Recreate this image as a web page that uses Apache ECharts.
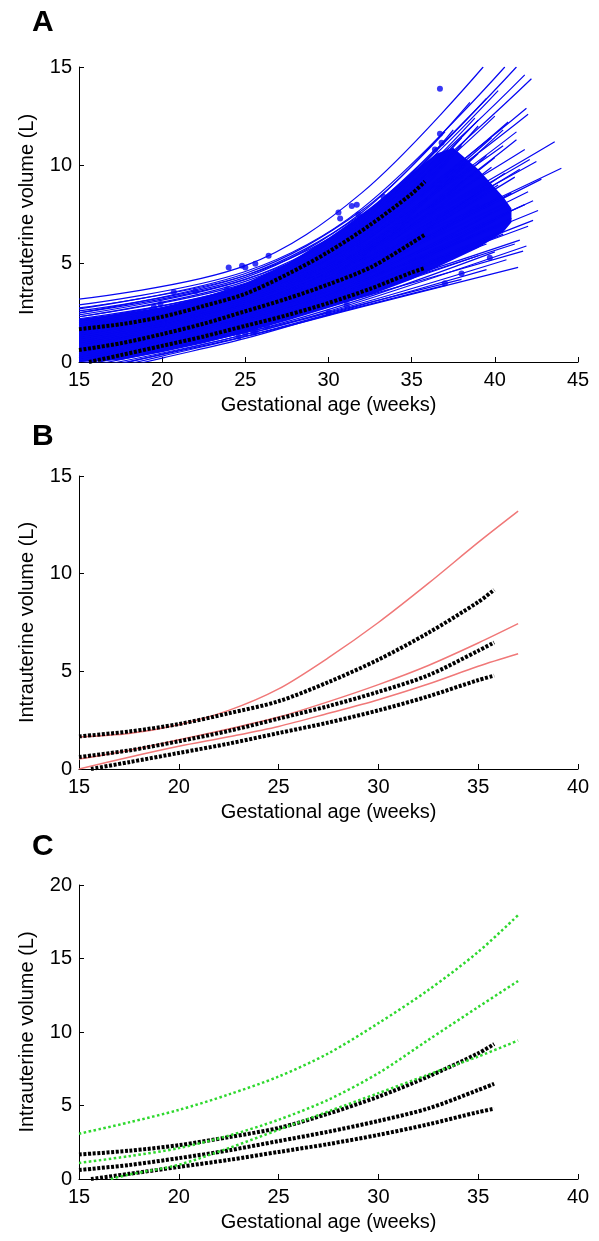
<!DOCTYPE html>
<html>
<head>
<meta charset="utf-8">
<script src="https://cdn.jsdelivr.net/npm/echarts@6/dist/echarts.min.js"></script>
<style>
html,body{margin:0;padding:0;background:#fff;}
#chart{width:599px;height:1241px;}
</style>
</head>
<body>
<div id="chart"></div>
<script>
// ---------- data ----------
const xTitle = 'Gestational age (weeks)';
const yTitle = 'Intrauterine volume (L)';
const panelLabels = ['A', 'B', 'C'];

// centile curves (black dotted), same in all panels
const blackUpper = [[15,1.67],[17.5,1.92],[20,2.3],[22.5,2.85],[25,3.47],[27.5,4.45],[30,5.6],[32.5,6.97],[35,8.55],[35.8,9.18]];
const blackMid   = [[15,0.61],[17.5,0.95],[20,1.42],[22.5,1.95],[25,2.58],[27.5,3.22],[30,3.95],[32.5,4.8],[35,6.05],[35.8,6.48]];
const blackLower = [[15.6,0],[17.5,0.35],[20,0.82],[22.5,1.3],[25,1.84],[27.5,2.38],[30,3.0],[32.5,3.72],[35,4.55],[35.8,4.78]];

// panel B reference curves (red)
const redTop = [[15,1.64],[17.5,1.82],[20,2.27],[22.5,3.0],[25,4.1],[27.5,5.7],[30,7.5],[32.5,9.5],[35,11.6],[37,13.2]];
const redMid = [[15,0.51],[17.5,0.95],[20,1.5],[22.5,2.05],[25,2.66],[27.5,3.45],[30,4.32],[32.5,5.3],[35,6.45],[37,7.44]];
const redLow = [[15,0],[17.5,0.6],[20,1.16],[22.5,1.65],[25,2.18],[27.5,2.85],[30,3.55],[32.5,4.35],[35,5.26],[37,5.9]];

// panel C reference curves (green)
const greenTop = [[15,3.08],[17.5,3.85],[20,4.7],[22.5,5.75],[25,6.97],[27.5,8.55],[30,10.6],[32.5,12.85],[35,15.45],[37,17.95]];
const greenMid = [[15,1.09],[17.5,1.55],[20,2.1],[22.5,2.95],[25,4.03],[27.5,5.4],[30,7.2],[32.5,9.46],[35,11.7],[37,13.47]];
const greenLow = [[16.6,0],[17.5,0.3],[20,0.97],[22.5,2.1],[25,3.35],[27.5,4.6],[30,5.84],[32.5,7.1],[35,8.33],[37,9.42]];

// panel A: individual fitted trajectories (blue)
const blueTraj = [
  [[15,3.2],[25,4.9],[32,8.6],[39.3,15]],
  [[15,2.9],[25,4.6],[32,7.8],[40.6,15]],
  [[15,2.75],[25,4.4],[32,7.4],[41.3,15]],
  [[15,2.5],[25,4.2],[32,7.1],[41.8,14.6]],
  [[15,2.3],[25,4.0],[32,6.9],[42.2,14.4]],
  [[15,2.2],[25,3.8],[32,6.5],[41.9,12.9]],
  [[15,2.0],[25,3.7],[32,6.4],[42.0,12.6]],
  [[15,1.9],[25,3.5],[32,6.1],[41.3,11.7]],
  [[15,1.8],[25,3.4],[32,5.7],[43.6,11.2]],
  [[15,1.6],[25,3.1],[32,5.2],[44.0,9.85]],
  [[15,1.7],[25,3.3],[32,5.6],[42.1,10.3]],
  [[15,1.5],[25,3.2],[32,5.6],[41.3,11.3]],
  [[15,1.4],[25,2.9],[32,5.0],[41.2,9.4]],
  [[15,1.2],[25,2.7],[32,4.7],[42.0,8.66]],
  [[15,1.0],[25,2.5],[32,4.4],[42.3,8.2]],
  [[15,0.9],[25,2.4],[32,4.2],[42.6,7.7]],
  [[15,0.7],[25,2.2],[32,3.9],[42.0,6.9]],
  [[15,0.5],[25,2.0],[32,3.6],[41.5,6.2]],
  [[15,0.2],[25,1.7],[32,3.3],[41.7,5.64]],
  [[15,-0.1],[25,1.5],[32,3.0],[40.7,5.2]],
  [[15,-0.5],[25,1.3],[32,2.8],[41.4,4.81]],
  [[15,-0.8],[20,0.2],[25,1.2],[30,2.4],[37,3.9]],
  [[15,-0.6],[20,0.4],[25,1.4],[30,2.5],[38,4.2]],
  [[15,1.3],[25,3.0],[32,5.4],[39.5,10.5]],
  [[15,1.1],[25,2.8],[32,5.1],[38.5,9.5]],
  [[15,0.8],[25,2.6],[32,4.9],[40.2,9.0]],
  [[15,0.6],[25,2.3],[32,4.5],[39.0,8.0]],
  [[15,0.4],[25,2.1],[32,4.1],[40.0,7.2]],
  [[15,0.3],[25,1.9],[32,3.8],[38.0,6.3]],
  [[15,1.0],[25,2.7],[32,5.3],[37.5,9.8]],
  [[15,1.6],[25,3.4],[32,6.0],[38.0,11.0]],
  [[15,1.8],[25,3.6],[32,6.3],[39.0,12.0]],
  [[15,1.4],[25,3.2],[32,5.8],[40.5,11.8]],
  [[15,0.6],[25,2.2],[32,4.3],[40.8,8.0]],
  [[15,0.1],[25,1.8],[32,3.7],[39.5,6.0]],
  [[15,-0.2],[25,1.6],[32,3.4],[39.0,5.4]],
  [[15,2.6],[25,4.3],[32,7.6],[38.5,13.2]],
  [[15,2.4],[25,4.2],[32,7.3],[39.5,13.4]],
  [[15,2.3],[25,4.1],[32,7.2],[40.2,13.8]],
  [[15,2.1],[25,3.9],[32,6.8],[39.0,12.3]],
  [[15,2.1],[25,3.9],[32,7.0],[37.5,11.8]],
  [[15,2.0],[25,3.8],[32,6.7],[40.0,12.5]],
  [[15,1.9],[25,3.7],[32,6.5],[38.0,11.4]],
  [[15,1.7],[25,3.5],[32,6.2],[40.5,11.0]],
  [[15,1.5],[25,3.3],[32,5.9],[41.8,10.8]],
  [[15,1.3],[25,3.1],[32,5.5],[42.5,10.2]],
  [[15,1.2],[25,2.9],[32,5.2],[41.5,9.8]],
  [[15,1.0],[25,2.7],[32,4.9],[42.8,9.3]],
  [[15,0.9],[25,2.6],[32,4.7],[41.0,8.6]],
  [[15,0.7],[25,2.4],[32,4.4],[41.8,8.0]],
  [[15,0.5],[25,2.2],[32,4.1],[41.0,7.3]],
  [[15,0.4],[25,2.0],[32,3.9],[42.3,7.2]],
  [[15,0.2],[25,1.9],[32,3.7],[40.5,6.5]],
  [[15,0.0],[25,1.7],[32,3.5],[41.2,6.0]],
  [[15,-0.3],[25,1.5],[32,3.2],[40.0,5.6]],
  [[15,-0.4],[25,1.4],[32,3.1],[41.9,5.9]],
  [[15,-0.7],[20,0.3],[25,1.3],[32,2.9],[39.5,4.7]],
  [[15,2.7],[25,4.5],[32,7.7],[37.0,11.7]],
  [[15,2.5],[25,4.4],[32,7.5],[36.5,10.9]],
  [[15,1.1],[25,2.9],[32,5.3],[39.8,9.9]],
  [[15,0.9],[25,2.7],[32,5.0],[40.6,9.6]],
  [[15,0.8],[25,2.5],[32,4.8],[39.2,8.7]],
  [[15,0.7],[25,2.5],[32,4.6],[40.3,8.4]],
  [[15,0.6],[25,2.3],[32,4.4],[38.6,7.6]],
  [[15,0.5],[25,2.2],[32,4.2],[39.8,7.6]],
  [[15,0.3],[25,2.1],[32,4.0],[40.9,7.6]],
  [[15,0.2],[25,1.9],[32,3.8],[39.3,6.7]],
  [[15,0.1],[25,1.8],[32,3.6],[40.2,6.6]],
  [[15,1.5],[25,3.2],[32,5.7],[39.0,10.6]],
  [[15,1.3],[25,3.0],[32,5.5],[40.0,10.4]],
  [[15,1.2],[25,3.0],[32,5.6],[38.2,10.0]],
  [[15,1.6],[25,3.4],[32,6.1],[39.8,11.4]],
  [[15,1.8],[25,3.5],[32,6.3],[40.8,12.2]],
  [[15,2.0],[25,3.8],[32,6.9],[38.8,12.4]]
];

// panel A: dense core of overlapping trajectories
const coreX     = [15, 17.5, 20, 22.5, 25, 27.5, 30, 32.5, 35, 36.5, 37.5, 39, 40.5, 41];
const coreUpper = [2.2, 2.45, 2.8, 3.3, 4.0, 5.0, 6.3, 7.8, 9.6, 10.6, 10.9, 9.8, 8.4, 7.8];
const coreLower = [0, 0.1, 0.5, 0.95, 1.5, 2.1, 2.75, 3.4, 4.2, 4.8, 5.2, 5.8, 6.6, 7.1];

// panel A: observed measurements (blue dots)
const bluePoints = [[36.7,13.9],[36.7,11.6],[36.8,11.15],[36.4,10.8],[33.3,8.4],[31.7,8.0],[31.4,7.93],[30.6,7.6],[30.7,7.3],[31.8,7.5],
  [26.4,5.4],[25.6,5.0],[25.0,4.8],[24.8,4.9],[24.0,4.8],[23.9,3.7],[22.0,3.6],[20.7,3.56],[19.9,2.95],[19.5,2.8],
  [24.6,1.29],[25.0,1.46],[25.6,1.54],[26.3,1.8],[24.2,1.63],[25.5,1.5],[30.0,2.5],[31.1,2.9],[37.0,4.0],[38.0,4.5],[39.7,5.3]];

// axis ranges
const xRangeA = [15, 45], xRangeBC = [15, 40];
const yRangeAB = [0, 15], yRangeC = [0, 20];

// ---------- chart ----------
const FONT = 'Liberation Sans, Arial, sans-serif';
const BLUE = '#0606f2';
const grids = [
  {left: 79, top: 67, width: 499, height: 295},
  {left: 79, top: 476, width: 499, height: 293},
  {left: 79, top: 885, width: 499, height: 294}
];
function xAxis(i, r) {
  return {type: 'value', gridIndex: i, min: r[0], max: r[1], interval: 5,
    name: xTitle, nameLocation: 'middle', nameGap: 33,
    nameTextStyle: {fontFamily: FONT, fontSize: 20, color: '#000'},
    axisLine: {lineStyle: {color: '#000', width: 1}},
    axisTick: {inside: true, length: 5, lineStyle: {color: '#000'}},
    axisLabel: {fontFamily: FONT, fontSize: 20, color: '#000', margin: 8},
    splitLine: {show: false}};
}
function yAxis(i, r) {
  return {type: 'value', gridIndex: i, min: r[0], max: r[1], interval: 5,
    name: yTitle, nameLocation: 'middle', nameGap: 42,
    nameTextStyle: {fontFamily: FONT, fontSize: 20, color: '#000'},
    axisLine: {show: true, lineStyle: {color: '#000', width: 1}},
    axisTick: {show: true, inside: true, length: 5, lineStyle: {color: '#000'}},
    axisLabel: {fontFamily: FONT, fontSize: 20, color: '#000', margin: 7},
    splitLine: {show: false}};
}
function blackSeries(idx) {
  return [blackUpper, blackMid, blackLower].map(d => ({
    type: 'line', xAxisIndex: idx, yAxisIndex: idx, data: d, smooth: 0.3, symbol: 'none', silent: true, z: 5,
    lineStyle: {color: '#000', width: 4, type: [3, 1.6], cap: 'butt'}
  }));
}
const series = [];
series.push({
  type: 'custom', xAxisIndex: 0, yAxisIndex: 0, data: [[coreX[0], coreLower[0]]], silent: true, z: 1,
  renderItem: function (params, api) {
    const pts = [];
    for (let i = 0; i < coreX.length; i++) pts.push(api.coord([coreX[i], coreUpper[i]]));
    for (let i = coreX.length - 1; i >= 0; i--) pts.push(api.coord([coreX[i], coreLower[i]]));
    return {type: 'polygon', shape: {points: pts}, style: {fill: BLUE}};
  }
});
blueTraj.forEach(t => series.push({
  type: 'line', xAxisIndex: 0, yAxisIndex: 0, data: t, smooth: 0.35, symbol: 'none', silent: true, z: 2,
  lineStyle: {color: BLUE, width: 1.2}
}));
series.push({type: 'scatter', xAxisIndex: 0, yAxisIndex: 0, data: bluePoints, symbolSize: 6, silent: true, z: 3,
  itemStyle: {color: BLUE}});
series.push(...blackSeries(0));
[redTop, redMid, redLow].forEach(d => series.push({
  type: 'line', xAxisIndex: 1, yAxisIndex: 1, data: d, smooth: 0.3, symbol: 'none', silent: true, z: 4,
  lineStyle: {color: '#f07878', width: 1.5}
}));
series.push(...blackSeries(1));
series.push(...blackSeries(2));
[greenTop, greenMid, greenLow].forEach(d => series.push({
  type: 'line', xAxisIndex: 2, yAxisIndex: 2, data: d, smooth: 0.3, symbol: 'none', silent: true, z: 6,
  lineStyle: {color: '#2ed82e', width: 2.5, type: [2.5, 2.5], cap: 'butt'}
}));

const labelY = [22.5, 437, 847];
const chart = echarts.init(document.getElementById('chart'), null, {renderer: 'canvas'});
chart.setOption({
  animation: false,
  backgroundColor: '#fff',
  grid: grids,
  xAxis: [xAxis(0, xRangeA), xAxis(1, xRangeBC), xAxis(2, xRangeBC)],
  yAxis: [yAxis(0, yRangeAB), yAxis(1, yRangeAB), yAxis(2, yRangeC)],
  graphic: panelLabels.map((t, i) => ({
    type: 'text', x: 32, y: labelY[i],
    style: {text: t, font: 'bold 30px ' + FONT, fill: '#000', textVerticalAlign: 'middle', textAlign: 'left'}
  })),
  series: series
});
</script>
</body>
</html>
